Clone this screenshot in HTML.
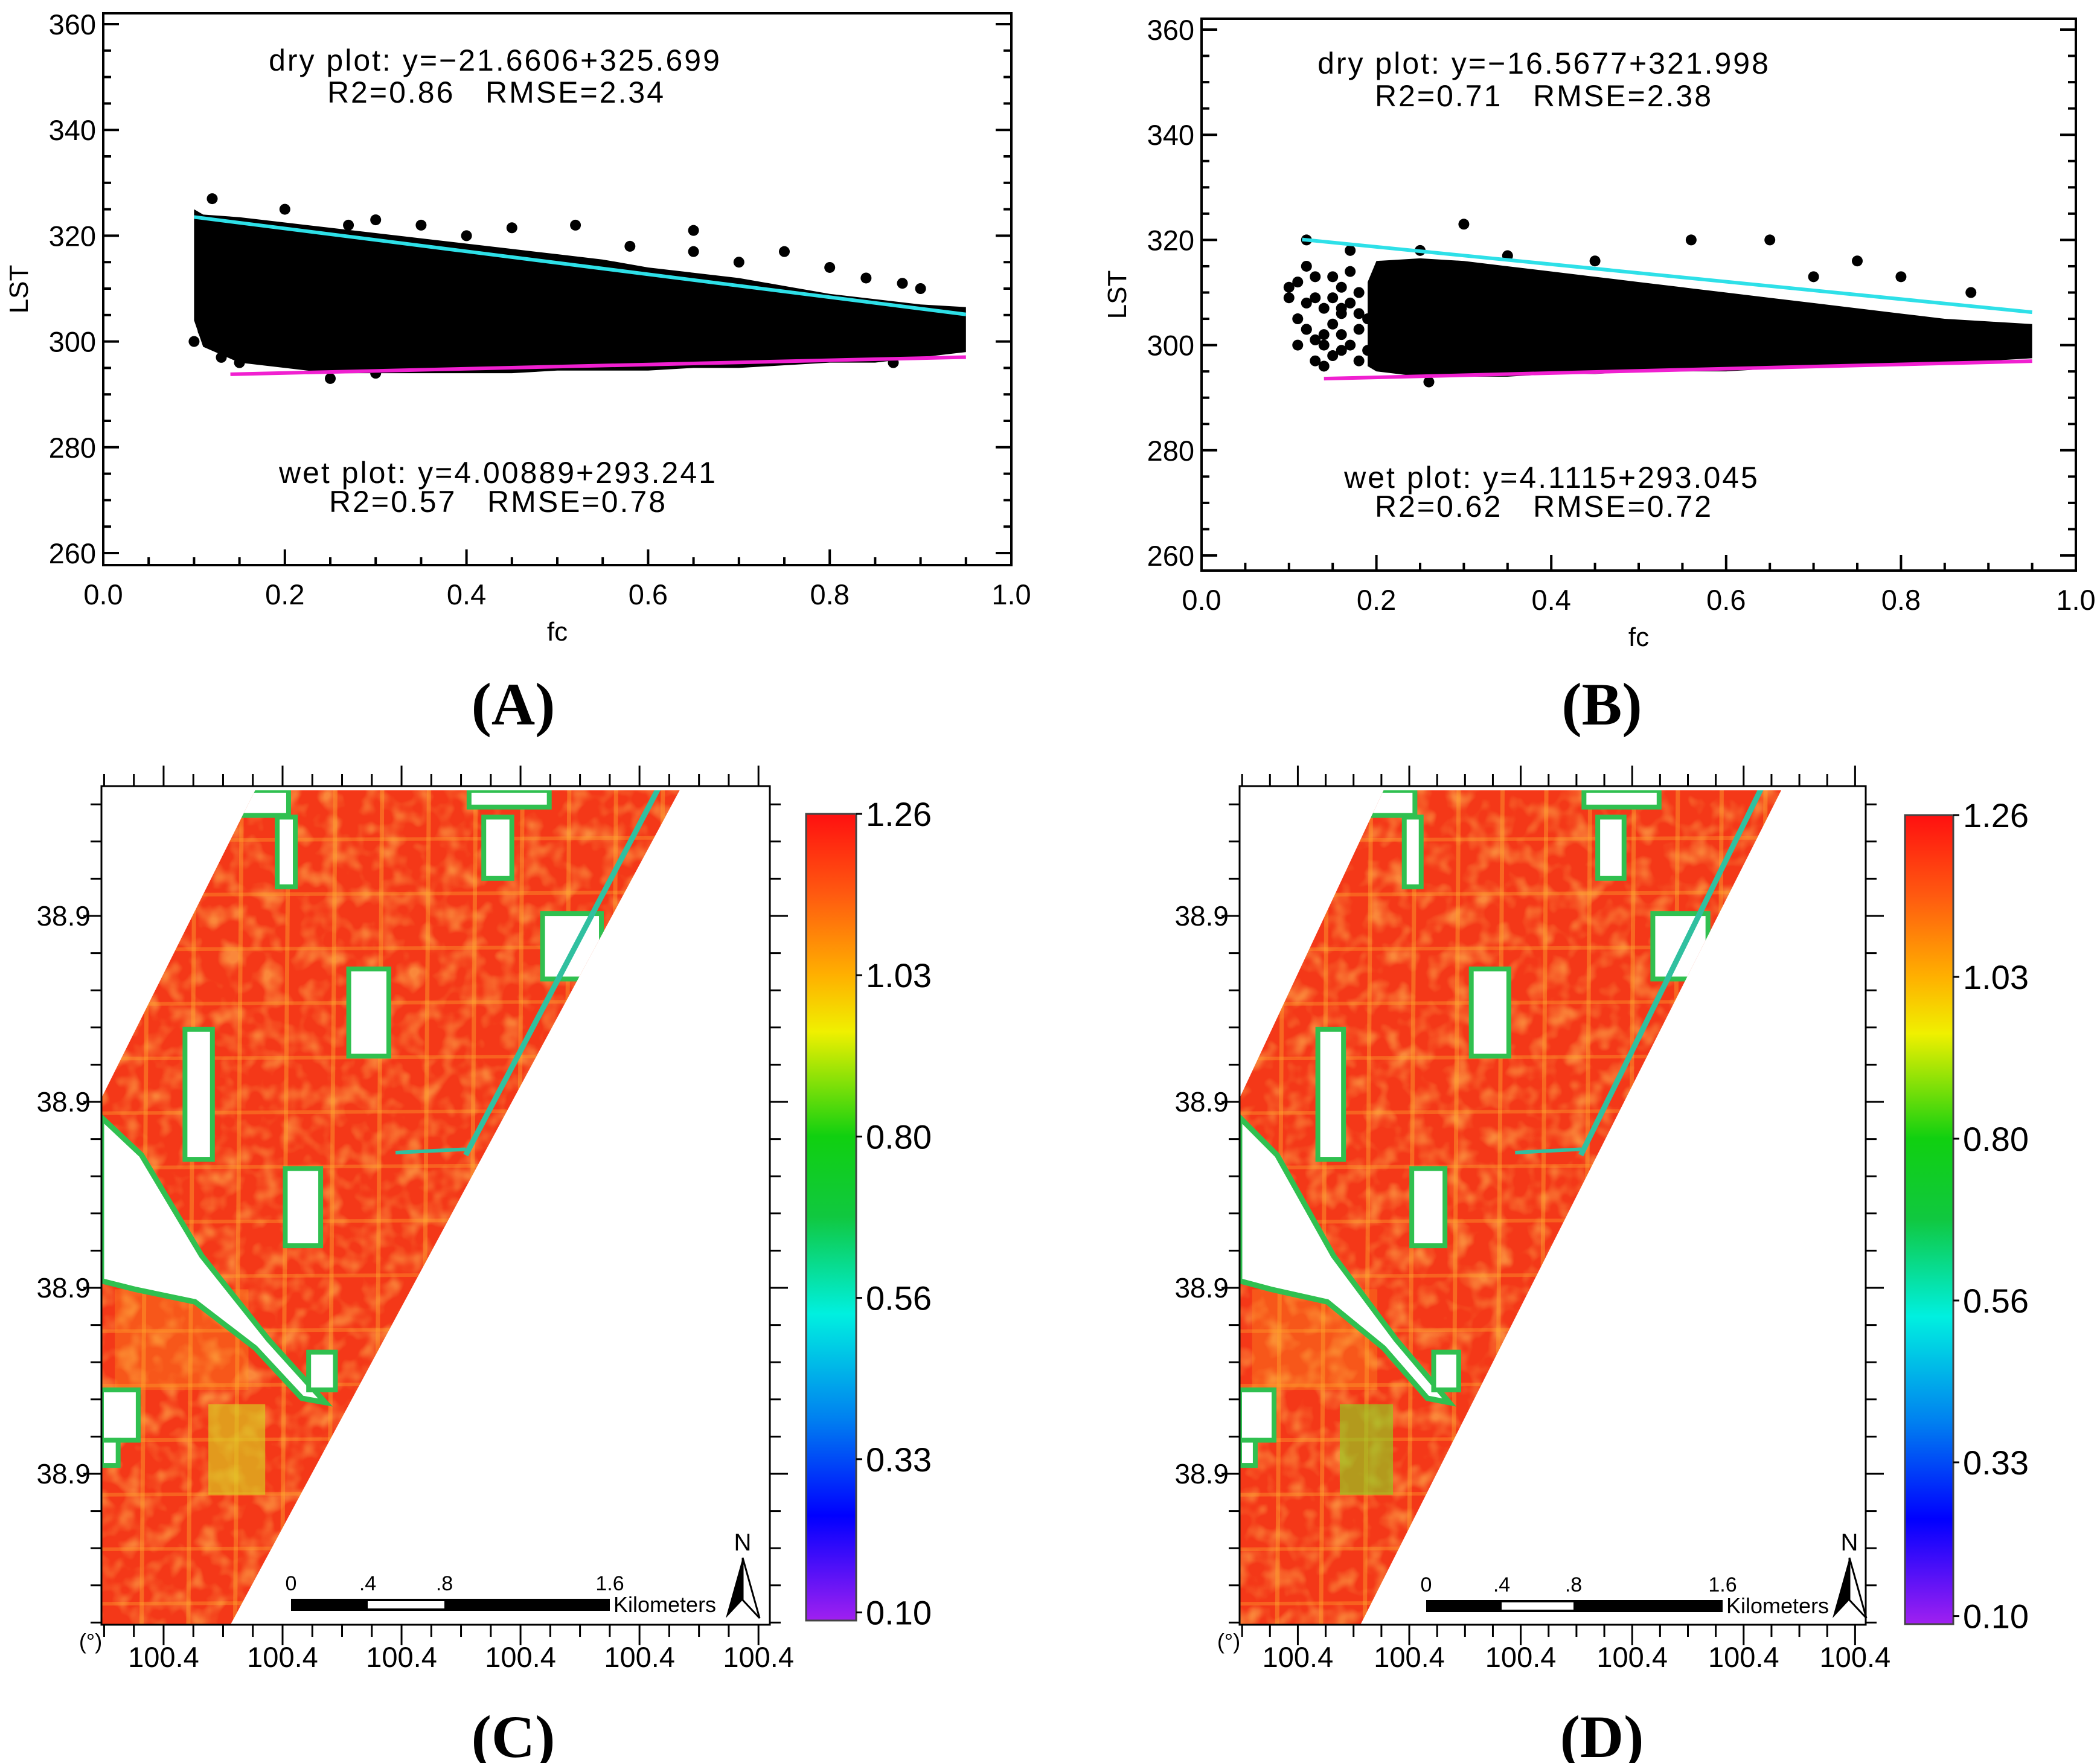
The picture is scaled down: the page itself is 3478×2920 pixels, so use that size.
<!DOCTYPE html>
<html><head><meta charset="utf-8">
<style>
html,body{margin:0;padding:0;background:#fff;}
svg{display:block;font-family:"Liberation Sans",sans-serif;}
.pre{white-space:pre;}
</style></head>
<body>
<svg id="root" width="3478" height="2920" viewBox="0 0 3478 2920" xmlns="http://www.w3.org/2000/svg">
<defs>
  <linearGradient id="cbar" x1="0" y1="0" x2="0" y2="1">
    <stop offset="0" stop-color="#ff1010"/>
    <stop offset="0.1" stop-color="#ff5a10"/>
    <stop offset="0.2" stop-color="#ffb000"/>
    <stop offset="0.27" stop-color="#f0f000"/>
    <stop offset="0.4" stop-color="#10d010"/>
    <stop offset="0.5" stop-color="#10c840"/>
    <stop offset="0.62" stop-color="#00f0e0"/>
    <stop offset="0.75" stop-color="#0080f0"/>
    <stop offset="0.87" stop-color="#0000ff"/>
    <stop offset="1" stop-color="#a020f0"/>
  </linearGradient>
  <filter id="mottle" x="0" y="0" width="1" height="1">
    <feTurbulence type="fractalNoise" baseFrequency="0.03 0.03" numOctaves="2" seed="3"/>
    <feColorMatrix type="matrix" values="0 0 0 0 1  0 0 0 0 0.6  0 0 0 0 0.1  0 0 -2.5 0 1.4"/>
  </filter>
</defs>
<g id="charts"></g>
<g id="maps"></g>
<text x="850" y="1200" font-family="Liberation Serif, serif" font-weight="bold" font-size="100" text-anchor="middle">(A)</text>
<text x="2653" y="1200" font-family="Liberation Serif, serif" font-weight="bold" font-size="100" text-anchor="middle">(B)</text>
<text x="850" y="2910" font-family="Liberation Serif, serif" font-weight="bold" font-size="100" text-anchor="middle">(C)</text>
<text x="2653" y="2910" font-family="Liberation Serif, serif" font-weight="bold" font-size="100" text-anchor="middle">(D)</text>
</svg>
<script>
// ---------- chart data ----------
const xTicks = [0.0, 0.2, 0.4, 0.6, 0.8, 1.0];
const xTickLabels = ["0.0", "0.2", "0.4", "0.6", "0.8", "1.0"];
const yTicks = [260, 280, 300, 320, 340, 360];
const yTickLabels = ["260", "280", "300", "320", "340", "360"];

const fcBinsA = [0.10, 0.11, 0.15, 0.2, 0.25, 0.3, 0.35, 0.4, 0.45, 0.5, 0.55, 0.6, 0.65, 0.7, 0.75, 0.8, 0.85, 0.9, 0.95];
const topA    = [325, 324, 323.5, 322.5, 321.5, 320.5, 319.5, 318.5, 317.5, 316.5, 315.5, 314, 313, 312, 310.5, 309, 308, 307, 306.5];
const bottomA = [304, 299, 296, 295, 294, 294, 294, 294, 294, 294.5, 294.5, 294.5, 295, 295, 295.5, 296, 296, 297, 298];
const outFcA  = [0.12, 0.2, 0.3, 0.35, 0.45, 0.52, 0.65, 0.65, 0.75, 0.8, 0.84, 0.88, 0.13, 0.15, 0.25, 0.3, 0.87, 0.1, 0.11, 0.27, 0.4, 0.58, 0.7, 0.9];
const outLstA = [327, 325, 323, 322, 321.5, 322, 321, 317, 317, 314, 312, 311, 297, 296, 293, 294, 296, 300, 302, 322, 320, 318, 315, 310];
const dryA = [-21.6606, 325.699];
const wetA = [4.00889, 293.241];
const dryRangeA = [0.1, 0.95];
const wetRangeA = [0.14, 0.95];

const fcBinsB = [0.19, 0.2, 0.25, 0.3, 0.35, 0.4, 0.45, 0.5, 0.55, 0.6, 0.65, 0.7, 0.75, 0.8, 0.85, 0.9, 0.95];
const topB    = [312, 316, 316.5, 316, 315, 314, 313, 312, 311, 310, 309, 308, 307, 306, 305, 304.5, 304];
const bottomB = [296, 295, 294, 294, 294, 294.5, 294.5, 295, 295, 295, 295.5, 296, 296, 296, 296.5, 297, 297.5];
const outFcB  = [0.1, 0.11, 0.12, 0.13, 0.14, 0.15, 0.16, 0.17, 0.12, 0.11, 0.15, 0.18, 0.17, 0.14, 0.3, 0.25, 0.56, 0.65, 0.75, 0.88, 0.8, 0.26, 0.13, 0.16, 0.12, 0.1, 0.14, 0.17, 0.18, 0.11, 0.15, 0.13, 0.16, 0.19, 0.12, 0.35, 0.45, 0.7, 0.18, 0.16, 0.14, 0.12, 0.17, 0.15, 0.13, 0.19, 0.18, 0.16];
const outLstB = [311, 305, 315, 309, 307, 304, 311, 300, 320, 300, 298, 297, 318, 296, 323, 318, 320, 320, 316, 310, 313, 293, 313, 306, 308, 309, 302, 308, 303, 312, 313, 301, 299, 305, 303, 317, 316, 313, 310, 307, 300, 303, 314, 309, 297, 299, 306, 302];
const dryB = [-16.5677, 321.998];
const wetB = [4.1115, 293.045];
const dryRangeB = [0.115, 0.95];
const wetRangeB = [0.14, 0.95];

const NS = "http://www.w3.org/2000/svg";
function mk(tag, attrs, parent) {
  const e = document.createElementNS(NS, tag);
  for (const k in attrs) e.setAttribute(k, attrs[k]);
  parent.appendChild(e);
  return e;
}

function drawChart(g, F, bins, tops, bots, oFc, oLst, dry, wet, dryR, wetR, texts) {
  const sx = v => F.x0 + (v - 0) / 1 * (F.x1 - F.x0);
  const sy = v => F.y260 - (v - 260) / 100 * (F.y260 - F.y360);
  let pts = [];
  for (let i = 0; i < bins.length; i++) pts.push(sx(bins[i]) + "," + sy(tops[i]));
  for (let i = bins.length - 1; i >= 0; i--) pts.push(sx(bins[i]) + "," + sy(bots[i]));
  const cloud = mk("polygon", {points: pts.join(" "), fill: "#000"}, g);
  
  
  for (let i = 0; i < oFc.length; i++) {
    const c = mk("circle", {cx: sx(oFc[i]), cy: sy(oLst[i]), r: 9, fill: "#000"}, g);
    
    
  }
  const dl = mk("line", {x1: sx(dryR[0]), y1: sy(dry[0]*dryR[0]+dry[1]), x2: sx(dryR[1]), y2: sy(dry[0]*dryR[1]+dry[1]), stroke: "#2ee0e8", "stroke-width": 6}, g);
  
  
  const wl = mk("line", {x1: sx(wetR[0]), y1: sy(wet[0]*wetR[0]+wet[1]), x2: sx(wetR[1]), y2: sy(wet[0]*wetR[1]+wet[1]), stroke: "#f020d0", "stroke-width": 6}, g);
  
  
  const fr = mk("rect", {x: F.x0, y: F.yt, width: F.x1 - F.x0, height: F.yb - F.yt, fill: "none", stroke: "#000", "stroke-width": 4}, g);
  
  
  for (let v = 260; v <= 360; v += 5) {
    const L = (v % 20 === 0) ? 26 : 13;
    mk("line", {x1: F.x0, y1: sy(v), x2: F.x0 + L, y2: sy(v), stroke: "#000", "stroke-width": 4}, g);
    mk("line", {x1: F.x1, y1: sy(v), x2: F.x1 - L, y2: sy(v), stroke: "#000", "stroke-width": 4}, g);
  }
  for (let i = 0; i < yTicks.length; i++) {
    const t = mk("text", {x: F.x0 - 12, y: sy(yTicks[i]) + 17, "font-size": 47, "text-anchor": "end"}, g);
    t.textContent = yTickLabels[i];
    
    
  }
  for (let k = 0; k <= 20; k++) {
    const v = k * 0.05;
    const L = (k % 4 === 0) ? 26 : 13;
    mk("line", {x1: sx(v), y1: F.yb, x2: sx(v), y2: F.yb - L, stroke: "#000", "stroke-width": 4}, g);
  }
  for (let i = 0; i < xTicks.length; i++) {
    const t = mk("text", {x: sx(xTicks[i]), y: F.yb + 65, "font-size": 47, "text-anchor": "middle"}, g);
    t.textContent = xTickLabels[i];
    
    
  }
  const xt = mk("text", {x: (F.x0 + F.x1) / 2, y: F.yb + 125, "font-size": 44, "text-anchor": "middle"}, g);
  xt.textContent = "fc";
  
  
  const yt = mk("text", {x: 0, y: 0, "font-size": 44, "text-anchor": "middle", transform: "translate(" + (F.x0 - 125) + "," + ((F.yt + F.yb) / 2) + ") rotate(-90)"}, g);
  yt.textContent = "LST";
  
  
  const names = ['dry-equation', 'dry-stats', 'wet-equation', 'wet-stats'];
  for (let i = 0; i < texts.length; i++) {
    const t = mk("text", {x: texts[i][0], y: texts[i][1], "font-size": 50, "text-anchor": "middle", "letter-spacing": 3, "class": "pre"}, g);
    t.textContent = texts[i][2];
    
    
  }
}

const charts = document.getElementById("charts");
const gA = mk("g", {}, charts);


drawChart(gA, {x0: 171, x1: 1675, yt: 22, yb: 936, y360: 40, y260: 916}, fcBinsA, topA, bottomA, outFcA, outLstA, dryA, wetA, dryRangeA, wetRangeA,
  [[820, 117, "dry plot: y=\u221221.6606+325.699"], [822, 170, "R2=0.86   RMSE=2.34"], [825, 800, "wet plot: y=4.00889+293.241"], [825, 848, "R2=0.57   RMSE=0.78"]]);
const gB = mk("g", {}, charts);


drawChart(gB, {x0: 1990, x1: 3438, yt: 31, yb: 945, y360: 49, y260: 920}, fcBinsB, topB, bottomB, outFcB, outLstB, dryB, wetB, dryRangeB, wetRangeB,
  [[2557, 122, "dry plot: y=\u221216.5677+321.998"], [2557, 176, "R2=0.71   RMSE=2.38"], [2570, 808, "wet plot: y=4.1115+293.045"], [2557, 856, "R2=0.62   RMSE=0.72"]]);

// ---------- maps ----------
const cbarTicks = ["1.26", "1.03", "0.80", "0.56", "0.33", "0.10"];
const cbarFrac = [0.0, 0.2, 0.4, 0.6, 0.8, 0.99];
const shape = [[0.23,0.005],[0.865,0.005],[0.193,1],[0,1],[0,0.372]];
const wedge = [[0,0.395],[0.06,0.44],[0.15,0.56],[0.25,0.66],[0.335,0.735],[0.3,0.73],[0.23,0.67],[0.14,0.615],[0.05,0.6],[0,0.59]];
const holes = [[0.125,0.29,0.041,0.155],[0.37,0.218,0.06,0.104],[0.275,0.456,0.053,0.092],[0.572,0.037,0.042,0.073],[0.66,0.152,0.088,0.078],[0.263,0.037,0.027,0.083],[0.31,0.675,0.04,0.045],[0,0.72,0.055,0.06],[0.2,0.005,0.08,0.03],[0.55,0.005,0.12,0.02],[0,0.78,0.025,0.03]];

function drawMap(F, cb, sb, north, name, patchColor) {
  const root = document.getElementById("maps");
  const g = mk("g", {}, root);
  
  
  const W = F.x1 - F.x0, H = F.y1 - F.y0;
  const px = f => F.x0 + f * W, py = f => F.y0 + f * H;
  const cid = name + "-clip";
  const cp = mk("clipPath", {id: cid}, g);
  mk("polygon", {points: shape.map(p => px(p[0]) + "," + py(p[1])).join(" ")}, cp);
  const img = mk("g", {"clip-path": "url(#" + cid + ")"}, g);
  
  
  mk("rect", {x: F.x0, y: F.y0, width: W, height: H, fill: "#f43818"}, img);
  mk("rect", {x: F.x0, y: F.y0, width: W, height: H, filter: "url(#mottle)", opacity: 0.55}, img);
  for (let k = 1; k < 14; k++) mk("line", {x1: px(k * 0.07), y1: F.y0, x2: px(k * 0.07 - 0.01), y2: F.y1, stroke: "#ffb030", "stroke-width": 7, opacity: 0.4}, img);
  for (let k = 1; k < 16; k++) mk("line", {x1: F.x0, y1: py(k * 0.065), x2: F.x1, y2: py(k * 0.065 - 0.004), stroke: "#ffb030", "stroke-width": 6, opacity: 0.35}, img);
  mk("rect", {x: px(0.16), y: py(0.737), width: 0.085 * W, height: 0.108 * H, fill: patchColor, opacity: 0.65}, img);
  mk("rect", {x: px(0.02), y: py(0.6), width: 0.2 * W, height: 0.12 * H, fill: "#ffa020", opacity: 0.3}, img);
  mk("polygon", {points: wedge.map(p => px(p[0]) + "," + py(p[1])).join(" "), fill: "#fff", stroke: "#30c050", "stroke-width": 9}, img);
  holes.forEach(h => {
    const r = mk("rect", {x: px(h[0]), y: py(h[1]), width: h[2] * W, height: h[3] * H, fill: "#fff", stroke: "#30c050", "stroke-width": 8}, img);
    
    
  });
  mk("line", {x1: px(0.835), y1: F.y0, x2: px(0.545), y2: py(0.44), stroke: "#30c0a0", "stroke-width": 9}, img);
  mk("line", {x1: px(0.44), y1: py(0.437), x2: px(0.545), y2: py(0.433), stroke: "#30c0a0", "stroke-width": 6}, img);
  const fr = mk("rect", {x: F.x0, y: F.y0, width: W, height: H, fill: "none", stroke: "#000", "stroke-width": 3}, g);
  
  
  for (let k = 0; k * 0.0445 <= 1.0001; k++) {
    const f = 0.093 - 0.0445 * 2 + k * 0.0445;
    if (f < 0 || f > 1) continue;
    const major = (k % 4 === 2);
    const L = major ? 34 : 20;
    mk("line", {x1: px(f), y1: F.y1, x2: px(f), y2: F.y1 + L, stroke: "#000", "stroke-width": 3}, g);
    mk("line", {x1: px(f), y1: F.y0, x2: px(f), y2: F.y0 - L, stroke: "#000", "stroke-width": 3}, g);
    if (major) {
      const t = mk("text", {x: px(f), y: F.y1 + 70, "font-size": 47, "text-anchor": "middle"}, g);
      t.textContent = "100.4";
      
      
    }
  }
  const ymaj = [1517, 1825, 2133, 2441];
  for (let y = 1517 - 61.6 * 3; y < F.y1; y += 61.6) {
    if (y < F.y0) continue;
    const major = ymaj.some(m => Math.abs(m - y) < 2);
    const L = major ? 30 : 18;
    mk("line", {x1: F.x0, y1: y, x2: F.x0 - L, y2: y, stroke: "#000", "stroke-width": 3}, g);
    mk("line", {x1: F.x1, y1: y, x2: F.x1 + L, y2: y, stroke: "#000", "stroke-width": 3}, g);
  }
  ymaj.forEach(y => {
    const t = mk("text", {x: F.x0 - 18, y: y + 16, "font-size": 46, "text-anchor": "end"}, g);
    t.textContent = "38.9";
    
    
  });
  const deg = mk("text", {x: F.x0 - 18, y: F.y1 + 40, "font-size": 36, "text-anchor": "middle"}, g);
  deg.textContent = "(°)";
  
  
  const cr = mk("rect", {x: cb.x0, y: cb.y0, width: cb.x1 - cb.x0, height: cb.y1 - cb.y0, fill: "url(#cbar)", stroke: "#444", "stroke-width": 3}, g);
  
  
  for (let i = 0; i < cbarTicks.length; i++) {
    const y = cb.y0 + cbarFrac[i] * (cb.y1 - cb.y0);
    mk("line", {x1: cb.x1, y1: y, x2: cb.x1 + 10, y2: y, stroke: "#000", "stroke-width": 3}, g);
    const t = mk("text", {x: cb.x1 + 16, y: y + 20, "font-size": 56}, g);
    t.textContent = cbarTicks[i];
    
    
  }
  const sg = mk("g", {}, g);
  
  
  mk("rect", {x: sb.x0, y: sb.y, width: sb.x3 - sb.x0, height: 20, fill: "#000"}, sg);
  mk("rect", {x: sb.x1, y: sb.y + 4, width: sb.x2 - sb.x1, height: 12, fill: "#fff"}, sg);
  [[sb.x0, "0"], [sb.x1, ".4"], [sb.x2, ".8"], [sb.x3, "1.6"]].forEach(p => {
    const t = mk("text", {x: p[0], y: sb.y - 14, "font-size": 34, "text-anchor": "middle"}, sg);
    t.textContent = p[1];
  });
  const km = mk("text", {x: sb.x3 + 6, y: sb.y + 22, "font-size": 36}, sg);
  km.textContent = "Kilometers";
  const na = mk("g", {}, g);
  
  
  const nx = north.x, ny = north.y;
  mk("polygon", {points: `${nx},${ny} ${nx-28},${ny+100} ${nx},${ny+70}`, fill: "#000"}, na);
  mk("polygon", {points: `${nx},${ny} ${nx+28},${ny+100} ${nx},${ny+70}`, fill: "#fff", stroke: "#000", "stroke-width": 3}, na);
  const N = mk("text", {x: nx, y: ny - 12, "font-size": 40, "text-anchor": "middle"}, na);
  N.textContent = "N";
}

drawMap({x0: 168, x1: 1275, y0: 1302, y1: 2691}, {x0: 1335, x1: 1418, y0: 1348, y1: 2684},
  {x0: 482, x1: 609, x2: 736, x3: 1010, y: 2648}, {x: 1230, y: 2580}, "map-c", "#d8d020");
drawMap({x0: 2053, x1: 3090, y0: 1302, y1: 2691}, {x0: 3155, x1: 3235, y0: 1350, y1: 2690},
  {x0: 2362, x1: 2487, x2: 2606, x3: 2853, y: 2650}, {x: 3063, y: 2580}, "map-d", "#90d020");
</script>
</body></html>
